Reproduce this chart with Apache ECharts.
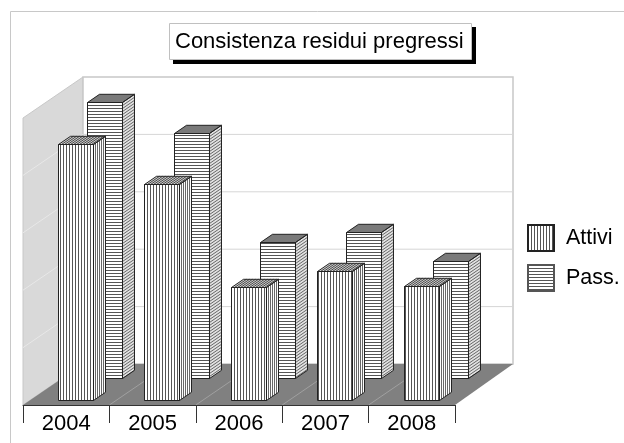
<!DOCTYPE html>
<html><head><meta charset="utf-8">
<style>html,body{margin:0;padding:0;background:#fff}#c{width:624px;height:443px}</style>
<script src="https://cdn.jsdelivr.net/npm/echarts@6/dist/echarts.min.js"></script>
</head><body><div id="c"></div>
<script>
const years = ['2004','2005','2006','2007','2008'];
const attivi = [89.2,75.6,39.4,45,40];
const pass = [96.2,85.7,47.7,51.2,40.8];
const yTicks = [20,40,60,80];

const DX=60, DY=-41, BW=0.405, BD=0.2, STEP=3, INK='#222';
function pattern(vertical){
  const c=document.createElement('canvas');c.width=STEP;c.height=STEP;
  const g=c.getContext('2d');g.fillStyle='#fff';g.fillRect(0,0,STEP,STEP);
  g.fillStyle='#555';
  if(vertical)g.fillRect(0,0,1,STEP);else g.fillRect(0,0,STEP,1);
  return {image:c,repeat:'repeat'};
}
const patV=pattern(true), patH=pattern(false);
const chart=echarts.init(document.getElementById('c'),null,{renderer:'canvas'});

function poly(points,style,z2){return {type:'polygon',shape:{points},style,z2:z2||0,silent:true};}
function line(a,b,stroke,w){return {type:'line',shape:{x1:a[0],y1:a[1],x2:b[0],y2:b[1]},style:{stroke,lineWidth:w||1},silent:true};}

function renderBar(tx,ty,vertical){
  return function(params,api){
    const base=api.coord([api.value(0),0]);
    const top=api.coord([api.value(0),api.value(1)]);
    const w=api.size([1,0])[0]*BW;
    const h=base[1]-top[1];
    const x=Math.round(base[0]-w/2+DX*tx)+0.5, y1=Math.round(base[1]+DY*ty)+0.5, y0=Math.round(y1-h)+0.5;
    const ox=DX*BD, oy=DY*BD, x2=x+w;
    const ch=[];
    ch.push(poly([[x,y0],[x2,y0],[x2,y1],[x,y1]],{fill:vertical?patV:patH}));
    ch.push(poly([[x2,y0],[x2+ox,y0+oy],[x2+ox,y1+oy],[x2,y1]],{fill:vertical?'#fff':'#e2e2e2'}));
    ch.push(poly([[x,y0],[x+ox,y0+oy],[x2+ox,y0+oy],[x2,y0]],{fill:vertical?'#d0d0d0':'#7a7a7a'}));
    if(vertical){
      for(let d=2;d<ox;d+=2) ch.push(line([x2+d,y0+oy*d/ox],[x2+d,y1+oy*d/ox],'#666'));
      for(let d=3;d<w;d+=3) ch.push(line([x+d,y0],[x+d+ox,y0+oy],'#444'));
    }else{
      for(let d=STEP;d<h;d+=STEP) ch.push(line([x2,y0+d],[x2+ox,y0+d+oy],'#666'));
    }
    const edge={fill:'none',stroke:INK,lineWidth:1};
    ch.push(poly([[x,y0],[x2,y0],[x2,y1],[x,y1]],edge));
    ch.push(poly([[x2,y0],[x2+ox,y0+oy],[x2+ox,y1+oy],[x2,y1]],edge));
    ch.push(poly([[x,y0],[x+ox,y0+oy],[x2+ox,y0+oy],[x2,y0]],edge));
    return {type:'group',children:ch};
  };
}
function renderWalls(params,api){
  const s=api.size([1,0])[0];
  const bl=api.coord([0,0]), tl=api.coord([0,100]), br=api.coord([years.length-1,0]);
  const xl=bl[0]-s/2, xr=br[0]+s/2, yb=bl[1], yt=tl[1];
  const ch=[];
  ch.push(poly([[xl,yb],[xl,yt],[xl+DX,yt+DY],[xl+DX,yb+DY]],{fill:'#d9d9d9',stroke:'#c8c8c8',lineWidth:1}));
  ch.push(poly([[xl+DX,yb+DY],[xl+DX,yt+DY],[xr+DX-2,yt+DY],[xr+DX-2,yb+DY]],{fill:'#fff',stroke:'#c8c8c8',lineWidth:1.5}));
  ch.push(poly([[xl,yb],[xl+DX,yb+DY],[xr+DX-2,yb+DY],[xr,yb]],{fill:'#808080'}));
  yTicks.forEach(v=>{
    const y=api.coord([0,v])[1];
    ch.push(line([xl,y],[xl+DX,y+DY],'#e8e8e8',1));
    ch.push(line([xl+DX,y+DY],[xr+DX-2,y+DY],'#d6d6d6',1));
  });
  for(let i=1;i<years.length;i++){
    const x=xl+s*i;
    ch.push(line([x,yb],[x+DX,yb+DY],'#a0a0a0',1));
  }
  return {type:'group',children:ch};
}

chart.setOption({
  animation:false,
  backgroundColor:'#fff',
  title:{text:'Consistenza residui pregressi',left:175,top:29,padding:0,
    textStyle:{fontFamily:'Liberation Sans',fontSize:22,fontWeight:'normal',color:'#000',lineHeight:25}},
  legend:{orient:'vertical',left:527,top:224,padding:0,icon:'rect',itemWidth:26,itemHeight:26,itemGap:12,data:['Attivi','Pass.'],
    textStyle:{fontFamily:'Liberation Sans',fontSize:21.5,color:'#000',padding:[0,0,0,7]},selectedMode:false},
  grid:{left:23,right:169,top:118,bottom:38,containLabel:false},
  xAxis:{type:'category',data:years,boundaryGap:true,z:5,
    axisLine:{show:true,lineStyle:{color:'#333',width:1}},
    axisTick:{show:true,inside:false,alignWithLabel:false,interval:0,length:18,lineStyle:{color:'#333',width:1}},
    axisLabel:{fontFamily:'Liberation Sans',fontSize:22,color:'#000',margin:8}},
  yAxis:{type:'value',min:0,max:100,interval:20,show:false,splitLine:{show:false}},
  series:[
    {type:'custom',name:'walls',z:1,silent:true,data:[[0,0]],renderItem:renderWalls,clip:false},
    {type:'custom',name:'Pass.',z:2,data:pass.map((v,i)=>[i,v]),encode:{x:0,y:1},renderItem:renderBar(0.64,27/41,false),clip:false,
      itemStyle:{color:patH,borderColor:'#555',borderWidth:1}},
    {type:'custom',name:'Attivi',z:3,data:attivi.map((v,i)=>[i,v]),encode:{x:0,y:1},renderItem:renderBar(0.155,5/41,true),clip:false,
      itemStyle:{color:patV,borderColor:'#222',borderWidth:1}}
  ],
  graphic:[
    {type:'line',z:0,shape:{x1:10.5,y1:11.5,x2:624,y2:11.5},style:{stroke:'#c8c8c8',lineWidth:1},silent:true},
    {type:'line',z:0,shape:{x1:10.5,y1:11.5,x2:10.5,y2:443},style:{stroke:'#c8c8c8',lineWidth:1},silent:true},
    {type:'rect',z:1,shape:{x:173,y:27,width:303,height:37},style:{fill:'#000'},silent:true},
    {type:'rect',z:2,shape:{x:169.5,y:23.5,width:302,height:36},style:{fill:'#fff',stroke:'#c0c0c0',lineWidth:1},silent:true}
  ]
});
</script></body></html>
